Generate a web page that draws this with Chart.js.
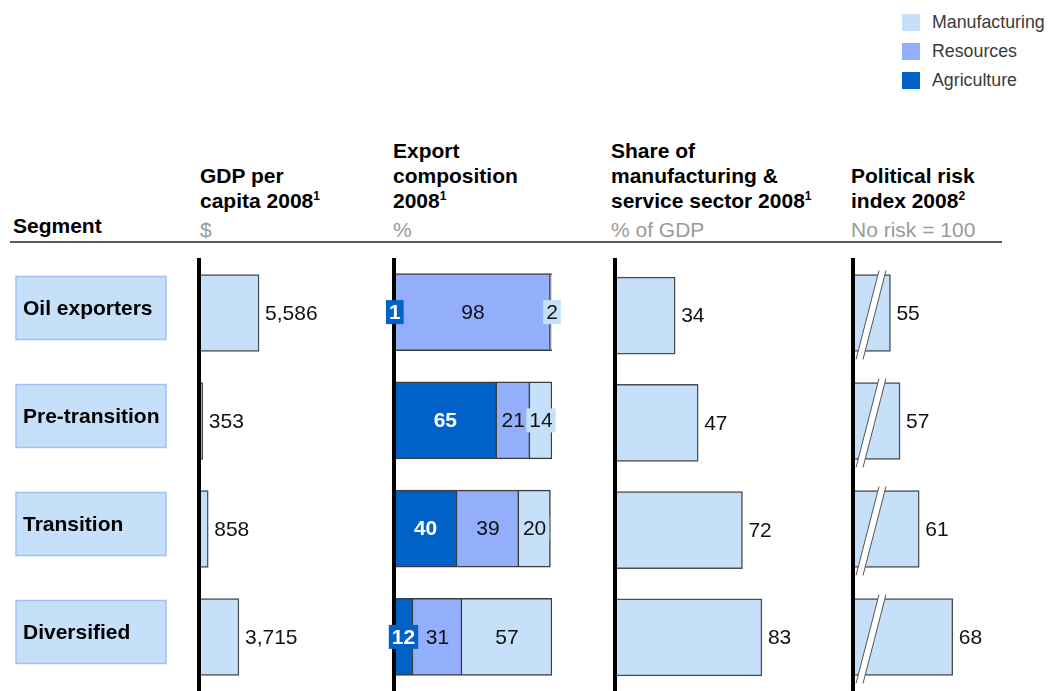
<!DOCTYPE html>
<html>
<head>
<meta charset="utf-8">
<script src="https://cdn.jsdelivr.net/npm/chart.js@4/dist/chart.umd.min.js"></script>
<style>
  html, body { margin: 0; padding: 0; background: #fff; }
  body { width: 1049px; height: 691px; position: relative; overflow: hidden;
         font-family: "Liberation Sans", Arial, sans-serif; }
  .hd { position: absolute; font-size: 21px; line-height: 25px; font-weight: bold;
        color: #000; white-space: nowrap; }
  .hd .unit { font-weight: normal; color: #9a9a9a; }
  .hd .sup { font-size: 12px; position: relative; top: -8px; }
  .rule { position: absolute; left: 10px; top: 241px; width: 992px; height: 2px; background: #5a5a5a; }
  canvas { position: absolute; }
  #legend { position: absolute; left: 902px; top: 8px; }
  #legend .item { height: 29px; display: flex; align-items: center; font-size: 17.8px; color: #3a3a3a; }
  #legend .sw { width: 18px; height: 17px; margin-right: 12px; }
</style>
</head>
<body>

<div id="legend"></div>

<div class="hd" style="left:13px; top:212.6px;">Segment</div>
<div class="hd" style="left:200px; top:162.6px;">GDP per<br>capita 2008<span class="sup">1</span><br><span class="unit">$</span></div>
<div class="hd" style="left:393px; top:137.6px;">Export<br>composition<br>2008<span class="sup">1</span><br><span class="unit">%</span></div>
<div class="hd" style="left:611px; top:137.6px;">Share of<br>manufacturing &amp;<br>service sector 2008<span class="sup">1</span><br><span class="unit">% of GDP</span></div>
<div class="hd" style="left:851px; top:162.6px;">Political risk<br>index 2008<span class="sup">2</span><br><span class="unit">No risk = 100</span></div>
<div class="rule"></div>

<canvas id="gdp" width="362" height="433" style="left:0px; top:258px;"></canvas>
<canvas id="exports" width="184" height="433" style="left:382px; top:258px;"></canvas>
<canvas id="share" width="242" height="433" style="left:605px; top:258px;"></canvas>
<canvas id="risk" width="206" height="433" style="left:843px; top:258px;"></canvas>

<script>
// ---- data ----
const segments = ['Oil exporters', 'Pre-transition', 'Transition', 'Diversified'];
const gdpPerCapita = [5586, 353, 858, 3715];            // $
const exportAgriculture = [1, 65, 40, 12];              // % of exports
const exportResources = [98, 21, 39, 31];
const exportManufacturing = [2, 14, 20, 57];
const manufServiceShare = [34, 47, 72, 83];             // % of GDP
const politicalRisk = [55, 57, 61, 68];                 // no risk = 100
const legendSeries = ['Manufacturing', 'Resources', 'Agriculture'];

// ---- styling ----
const colors = {
  Manufacturing: '#C6E0FA',
  Resources: '#93AFFC',
  Agriculture: '#0061C7'
};
const FONT = '"Liberation Sans", Arial, sans-serif';
const barEdge = '#4d4d4d';

// legend
const legendEl = document.getElementById('legend');
legendSeries.forEach(name => {
  const row = document.createElement('div');
  row.className = 'item';
  const sw = document.createElement('div');
  sw.className = 'sw';
  sw.style.background = colors[name];
  row.appendChild(sw);
  row.appendChild(document.createTextNode(name));
  legendEl.appendChild(row);
});

// thick black value axis at the zero / base of each panel
const baseLine = {
  id: 'baseLine',
  afterDatasetsDraw(chart) {
    const x = chart.scales.x.getPixelForValue(chart.scales.x.min);
    const ctx = chart.ctx;
    ctx.save();
    ctx.fillStyle = '#000';
    ctx.fillRect(x - 2, 0, 4, chart.height);
    ctx.restore();
  }
};

// value written just past the end of each bar
function endLabels(fmt) {
  return {
    id: 'endLabels',
    afterDraw(chart) {
      const ctx = chart.ctx;
      const meta = chart.getDatasetMeta(0);
      const data = chart.data.datasets[0].data;
      ctx.save();
      ctx.font = '21px ' + FONT;
      ctx.fillStyle = '#111';
      ctx.textBaseline = 'middle';
      ctx.textAlign = 'left';
      meta.data.forEach((el, i) => {
        ctx.fillText(fmt(data[i]), el.x + 6, el.y + 1);
      });
      ctx.restore();
    }
  };
}

// segment name boxes on the left
const segmentBoxes = {
  id: 'segmentBoxes',
  afterDraw(chart) {
    const ctx = chart.ctx;
    const y = chart.scales.y;
    ctx.save();
    chart.data.labels.forEach((name, i) => {
      const yc = y.getPixelForValue(i) - 5;
      ctx.fillStyle = '#C6E0FA';
      ctx.fillRect(16, yc - 31.5, 150, 63);
      ctx.strokeStyle = '#A2BEF6';
      ctx.lineWidth = 1.5;
      ctx.strokeRect(16, yc - 31.5, 150, 63);
      ctx.fillStyle = '#000';
      ctx.font = 'bold 21px ' + FONT;
      ctx.textBaseline = 'middle';
      ctx.fillText(name, 23, yc + 1);
    });
    ctx.restore();
  }
};

// boxed labels centred in each stacked segment
const segmentLabels = {
  id: 'segmentLabels',
  afterDraw(chart) {
    const ctx = chart.ctx;
    ctx.save();
    ctx.textBaseline = 'middle';
    ctx.textAlign = 'center';
    chart.data.datasets.forEach((ds, d) => {
      const meta = chart.getDatasetMeta(d);
      const dark = ds.label === 'Agriculture';
      ctx.font = (dark ? 'bold ' : '') + '21px ' + FONT;
      meta.data.forEach((el, i) => {
        const txt = String(ds.data[i]);
        const cx = (el.x + el.base) / 2;
        const w = ctx.measureText(txt).width + 6;
        const h = 24;
        ctx.fillStyle = ds.backgroundColor;
        ctx.fillRect(cx - w / 2, el.y - h / 2, w, h);
        ctx.fillStyle = dark ? '#fff' : '#111';
        ctx.fillText(txt, cx, el.y + 1);
      });
    });
    ctx.restore();
  }
};

// axis-break marks across the bars of the truncated risk scale
const breakMarks = {
  id: 'breakMarks',
  afterDraw(chart) {
    const ctx = chart.ctx;
    const x0 = chart.scales.x.getPixelForValue(chart.scales.x.min);
    const meta = chart.getDatasetMeta(0);
    ctx.save();
    meta.data.forEach(el => {
      const half = el.height / 2;
      const top = el.y - half - 4, bot = el.y + half + 8;
      const pts = [[x0 + 26, top], [x0 + 33, top], [x0 + 10, bot], [x0 + 3, bot]];
      ctx.beginPath();
      ctx.moveTo(pts[0][0], pts[0][1]);
      pts.slice(1).forEach(p => ctx.lineTo(p[0], p[1]));
      ctx.closePath();
      ctx.fillStyle = '#fff';
      ctx.fill();
      ctx.strokeStyle = '#555';
      ctx.lineWidth = 1;
      ctx.beginPath();
      ctx.moveTo(pts[0][0], pts[0][1]); ctx.lineTo(pts[3][0], pts[3][1]);
      ctx.moveTo(pts[1][0], pts[1][1]); ctx.lineTo(pts[2][0], pts[2][1]);
      ctx.stroke();
    });
    ctx.restore();
  }
};

function baseOptions(xMin, xMax, pad) {
  return {
    indexAxis: 'y',
    responsive: false,
    animation: false,
    devicePixelRatio: 1,
    layout: { padding: pad },
    plugins: { legend: { display: false }, tooltip: { enabled: false } },
    scales: {
      x: { type: 'linear', display: false, min: xMin, max: xMax },
      y: { type: 'category', display: false, offset: true }
    }
  };
}

function singleBar(data) {
  return {
    data: data,
    backgroundColor: colors.Manufacturing,
    borderColor: barEdge,
    borderWidth: 1.5,
    barThickness: 77
  };
}

// GDP per capita
new Chart(document.getElementById('gdp'), {
  type: 'bar',
  data: { labels: segments, datasets: [singleBar(gdpPerCapita)] },
  options: baseOptions(0, 13950, { left: 199, right: 13, top: 1, bottom: 0 }),
  plugins: [baseLine, endLabels(v => v.toLocaleString('en-US')), segmentBoxes]
});

// Export composition (stacked to 100%)
const exportOpts = baseOptions(0, 100, { left: 12, right: 14, top: 0, bottom: 0 });
exportOpts.scales.x.stacked = true;
exportOpts.scales.y.stacked = true;
new Chart(document.getElementById('exports'), {
  type: 'bar',
  data: {
    labels: segments,
    datasets: [
      { label: 'Agriculture', data: exportAgriculture },
      { label: 'Resources', data: exportResources },
      { label: 'Manufacturing', data: exportManufacturing }
    ].map(ds => Object.assign(ds, {
      backgroundColor: colors[ds.label],
      borderColor: '#3d3d3d',
      borderWidth: 1.5,
      barThickness: 77
    }))
  },
  options: exportOpts,
  plugins: [baseLine, segmentLabels]
});

// Share of manufacturing & service sector
new Chart(document.getElementById('share'), {
  type: 'bar',
  data: { labels: segments, datasets: [singleBar(manufServiceShare)] },
  options: baseOptions(0, 100, { left: 10, right: 55, top: 4, bottom: 0 }),
  plugins: [baseLine, endLabels(v => String(v))]
});

// Political risk index (truncated axis)
new Chart(document.getElementById('risk'), {
  type: 'bar',
  data: { labels: segments, datasets: [singleBar(politicalRisk)] },
  options: baseOptions(47.2, 78.45, { left: 10, right: 46, top: 1, bottom: 0 }),
  plugins: [baseLine, endLabels(v => String(v)), breakMarks]
});
</script>
</body>
</html>
